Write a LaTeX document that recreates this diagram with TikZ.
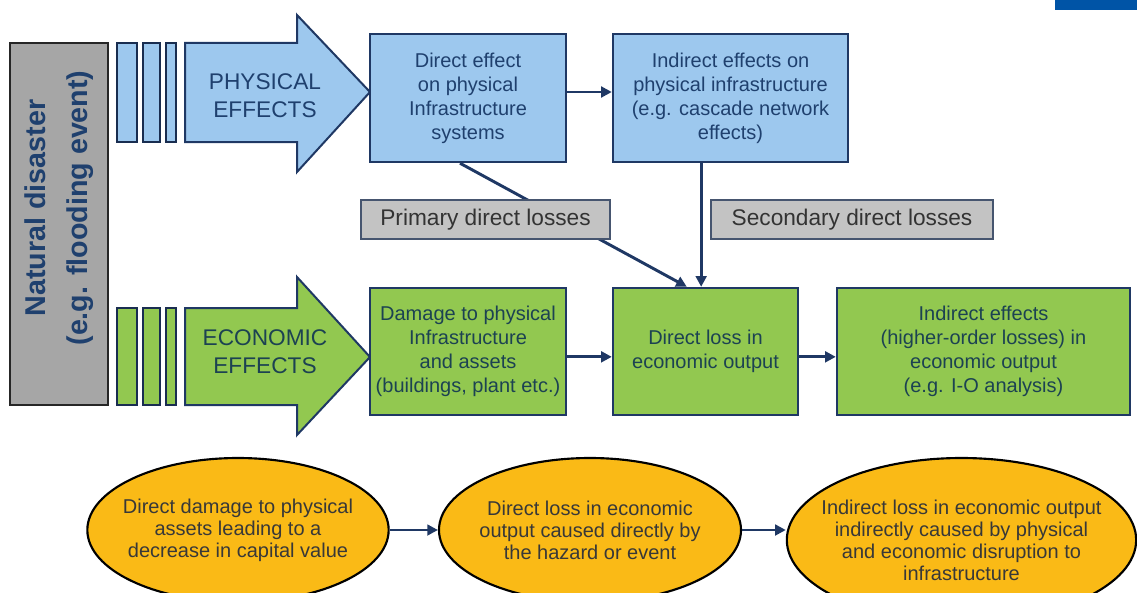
\documentclass[tikz,border=0pt]{standalone}
\usepackage{fontspec}
\setmainfont{Liberation Sans}
\usetikzlibrary{arrows.meta,shapes.geometric}
\definecolor{lblue}{RGB}{157,200,238}
\definecolor{lgreen}{RGB}{146,200,80}
\definecolor{ylw}{RGB}{250,186,22}
\definecolor{navy}{RGB}{31,56,100}
\definecolor{txtblue}{RGB}{31,64,110}
\definecolor{txtgreen}{RGB}{28,66,82}
\definecolor{dgray}{RGB}{166,166,166}
\definecolor{lgray}{RGB}{195,195,195}
\definecolor{topblue}{RGB}{0,84,166}
\begin{document}
\begin{tikzpicture}[x=0.75pt,y=-0.75pt,
  box/.style={draw=navy,line width=1.8pt,align=center,inner sep=0pt,font=\fontsize{15}{18}\selectfont},
  bluebox/.style={box,fill=lblue,text=txtblue},
  greenbox/.style={box,fill=lgreen,text=txtgreen},
  lossbox/.style={draw=navy!60!gray,line width=1.2pt,fill=lgray,text=black!80,font=\fontsize{17}{20}\selectfont,inner sep=0pt},
  oval/.style={ellipse,draw=black,line width=1.6pt,fill=ylw,text=black!78,align=center,inner xsep=-60pt,inner ysep=-40pt,font=\fontsize{15}{16.5}\selectfont},
  conn/.style={draw=navy,line width=2.2pt,-{Triangle[length=8pt,width=8pt]}},
  bar/.style={draw=navy!80!black,line width=1.5pt},
  bigarrow/.style={draw=navy,line width=1.5pt},
  arrowtext/.style={align=center,font=\fontsize{17}{21}\selectfont}
]
\useasboundingbox (0,0) rectangle (1137,592);
\fill[topblue] (1055,0) rectangle (1137,10);

% natural disaster box
\node[draw=black!85,line width=1.5pt,fill=dgray,minimum width=73.5pt,minimum height=271.5pt,inner sep=0pt] (nd) at (59,224) {};
\node[rotate=90,align=center,text=txtblue,font=\bfseries\fontsize{21.5}{32}\selectfont] (ndtext) at (59,208) {Natural disaster\\(e.g. flooding event)};

% bars
\foreach \a/\b in {117/137,143/160,166/176}{
  \draw[bar,fill=lblue] (\a,43) rectangle (\b,142);
  \draw[bar,fill=lgreen] (\a,308) rectangle (\b,405);
}

% big arrows
\draw[bigarrow,fill=lblue] (185,43) -- (297,43) -- (297,15) -- (370,92) -- (297,172) -- (297,142) -- (185,142) -- cycle;
\node[arrowtext,text=txtblue] (phys) at (265,96) {PHYSICAL\\EFFECTS};
\draw[bigarrow,fill=lgreen] (185,308) -- (297,308) -- (297,277) -- (370,357) -- (297,435) -- (297,405) -- (185,405) -- cycle;
\node[arrowtext,text=txtgreen] (econ) at (265,352) {ECONOMIC\\EFFECTS};

% boxes
\node[bluebox,minimum width=147pt,minimum height=96pt] (b1) at (468,98) {Direct effect\\on physical\\Infrastructure\\systems};
\node[bluebox,minimum width=176.25pt,minimum height=96pt] (b2) at (730.5,98) {Indirect effects on\\physical infrastructure\\(e.g. cascade network\\effects)};
\node[greenbox,minimum width=147pt,minimum height=95.25pt] (g1) at (468,351.5) {Damage to physical\\Infrastructure\\and assets\\(buildings, plant etc.)};
\node[greenbox,minimum width=138.75pt,minimum height=95.25pt] (g2) at (705.5,351.5) {Direct loss in\\economic output};
\node[greenbox,minimum width=219.75pt,minimum height=95.25pt] (g3) at (983.5,351.5) {Indirect effects\\(higher-order losses) in\\economic output\\(e.g. I-O analysis)};

% connectors
\draw[conn] ([yshift=4.5pt]b1.east) -- ([yshift=4.5pt]b2.west);
\draw[conn] ([yshift=-4pt]g1.east) -- ([yshift=-4pt]g2.west);
\draw[conn] ([yshift=-4pt]g2.east) -- ([yshift=-4pt]g3.west);
\draw[conn] ([xshift=-6pt]b1.south) -- ([xshift=-14pt]g2.north);
\draw[conn] ([xshift=-22pt]b2.south) -- ([xshift=-22pt]b2.south |- g2.north);

% loss labels
\node[lossbox,minimum width=186.75pt,minimum height=29.25pt] (prim) at (485.5,219.5) {Primary direct losses};
\node[lossbox,minimum width=211.5pt,minimum height=29.25pt] (sec) at (852,219.5) {Secondary direct losses};

% ellipses
\node[oval,minimum width=226pt,minimum height=108pt] (e1) at (238,530) {Direct damage to physical\\assets leading to a\\decrease in capital value};
\node[oval,minimum width=226.5pt,minimum height=108pt] (e2) at (590,530) {Direct loss in economic\\output caused directly by\\the hazard or event};
\node[oval,minimum width=262pt,minimum height=123pt] (e3) at (961.5,540) {Indirect loss in economic output\\indirectly caused by physical\\and economic disruption to\\infrastructure};
\draw[conn] (e1.east) -- (e2.west);
\draw[conn] (e2.east) -- (e2.east -| e3.west);
\end{tikzpicture}
\end{document}
